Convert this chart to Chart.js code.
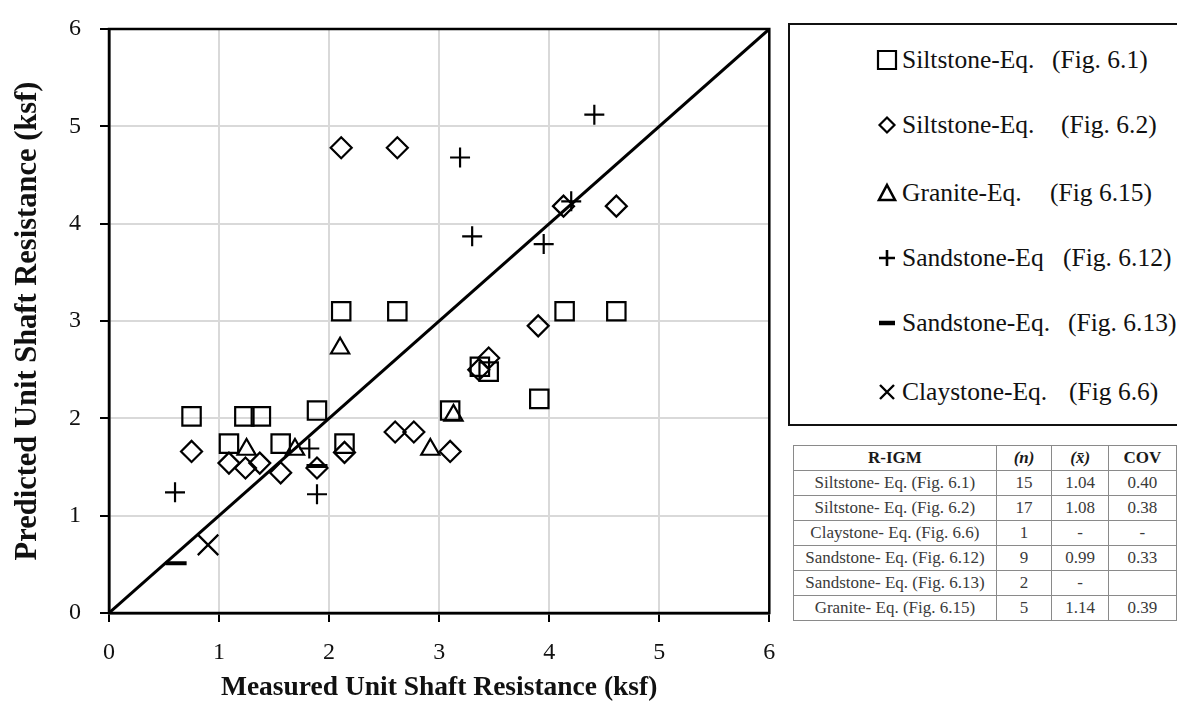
<!DOCTYPE html>
<html>
<head>
<meta charset="utf-8">
<title>Measured vs Predicted Unit Shaft Resistance</title>
<script src="https://cdn.jsdelivr.net/npm/chart.js@4"></script>
<style>
    body {
        margin: 0;
        width: 1177px;
        height: 704px;
        overflow: hidden;
        background: #fff;
        position: relative;
        font-family: 'Liberation Serif', 'Times New Roman', serif;
    }
    #chartBox {
        position: absolute;
        left: 0;
        top: 0;
        width: 786px;
        height: 704px;
    }
    .legend {
        position: absolute;
        left: 788px;
        top: 23px;
        width: 430px;
        height: 403px;
        border: 2px solid #111;
        box-sizing: border-box;
    }
    .legend .lbl {
        position: absolute;
        font-size: 25.5px;
        line-height: 30px;
        color: #111;
        white-space: nowrap;
    }
    .legend canvas {
        position: absolute;
    }
    .rigm {
        position: absolute;
        left: 793px;
        top: 445px;
        border-collapse: collapse;
        font-size: 17px;
        color: #3a3a3a;
        table-layout: fixed;
    }
    .rigm td, .rigm th {
        border: 1.5px solid #8a8a8a;
        height: 24px;
        padding: 0;
        text-align: center;
        white-space: nowrap;
        line-height: 20px;
    }
    .rigm th { font-weight: bold; color: #1a1a1a; }
</style>
</head>
<body>
<div id="chartBox"><canvas id="chart"></canvas></div>
<div class="legend" id="legend"></div>
<table class="rigm" id="rigm"></table>

<script>
    // measured (x) vs predicted (y) unit shaft resistance, ksf
    const siltstone61 = [[0.75, 2.02], [1.09, 1.74], [1.23, 2.02], [1.38, 2.02], [1.56, 1.74], [1.89, 2.08],
        [2.14, 1.74], [2.11, 3.10], [2.62, 3.10], [3.10, 2.08], [3.37, 2.53], [3.45, 2.48], [3.91, 2.20],
        [4.14, 3.10], [4.61, 3.10]];
    const siltstone62 = [[0.75, 1.66], [1.09, 1.54], [1.24, 1.49], [1.37, 1.54], [1.56, 1.44], [1.89, 1.49],
        [2.14, 1.65], [2.11, 4.78], [2.62, 4.78], [2.60, 1.86], [2.77, 1.86], [3.10, 1.66], [3.36, 2.50],
        [3.45, 2.62], [3.90, 2.95], [4.13, 4.18], [4.61, 4.18]];
    const granite615 = [[1.25, 1.68], [1.69, 1.68], [2.10, 2.72], [2.92, 1.68], [3.13, 2.03]];
    const sandstone612 = [[0.60, 1.24], [1.82, 1.69], [1.89, 1.22], [3.19, 4.68], [3.30, 3.87],
        [3.95, 3.79], [4.20, 4.23], [4.41, 5.12]];
    const sandstone613 = [[0.61, 0.51], [1.89, 1.51]];
    const claystone66 = [[0.90, 0.70]];
    const oneToOne = [[0, 0], [6, 6]];

    const seriesNames = ['Siltstone-Eq.', 'Siltstone-Eq.', 'Granite-Eq.', 'Sandstone-Eq', 'Sandstone-Eq.', 'Claystone-Eq.'];
    const seriesFigs = ['(Fig. 6.1)', '(Fig. 6.2)', '(Fig 6.15)', '(Fig. 6.12)', '(Fig. 6.13)', '(Fig 6.6)'];

    const tableHead = ['R-IGM', '(n)', '(x\u0304)', 'COV'];
    const tableRigm = ['Siltstone- Eq. (Fig. 6.1)', 'Siltstone- Eq. (Fig. 6.2)', 'Claystone- Eq. (Fig. 6.6)',
        'Sandstone- Eq. (Fig. 6.12)', 'Sandstone- Eq. (Fig. 6.13)', 'Granite- Eq. (Fig. 6.15)'];
    const tableN = ['15', '17', '1', '9', '2', '5'];
    const tableMean = ['1.04', '1.08', '-', '0.99', '-', '1.14'];
    const tableCov = ['0.40', '0.38', '-', '0.33', '', '0.39'];

    const serif = "'Liberation Serif', 'Times New Roman', serif";

    function pts(arr) {
        return arr.map(p => ({ x: p[0], y: p[1] }));
    }

    function markerSet(data, style, radius, width) {
        return {
            data: pts(data),
            pointStyle: style,
            pointRadius: radius,
            pointHoverRadius: radius,
            pointBorderWidth: width,
            pointBorderColor: '#000',
            pointBackgroundColor: 'rgba(0,0,0,0)',
            showLine: false
        };
    }

    // black frame round the plot area
    const framePlugin = {
        id: 'frame',
        beforeDatasetsDraw(chart) {
            const { ctx, chartArea: a } = chart;
            ctx.save();
            ctx.strokeStyle = '#000';
            ctx.lineWidth = 2.5;
            ctx.strokeRect(a.left, a.top, a.right - a.left, a.bottom - a.top);
            ctx.restore();
        }
    };

    // fixed axis sizes, and no extra room for end labels
    function fixScale(size) {
        return function (scale) {
            if (scale.isHorizontal()) scale.height = size;
            else scale.width = size;
            scale.paddingTop = 0;
            scale.paddingBottom = 0;
            scale.paddingLeft = 0;
            scale.paddingRight = 0;
        };
    }

    const axisCommon = {
        type: 'linear',
        min: 0,
        max: 6,
        grid: { color: '#d9d9d9', lineWidth: 2, tickColor: '#000', tickLength: 9, tickWidth: 2 },
        border: { color: '#000', width: 2.5 }
    };
    const tickFont = { family: serif, size: 24 };

    new Chart(document.getElementById('chart'), {
        type: 'scatter',
        data: {
            datasets: [
                {
                    type: 'line',
                    data: pts(oneToOne),
                    borderColor: '#000',
                    borderWidth: 3,
                    pointRadius: 0,
                    showLine: true
                },
                markerSet(siltstone61, 'rect', 13, 2.2),
                markerSet(siltstone62, 'rectRot', 10.5, 2.2),
                markerSet(granite615, 'triangle', 10.5, 2.2),
                markerSet(sandstone612, 'cross', 10, 2.2),
                markerSet(sandstone613, 'line', 10.5, 4),
                markerSet(claystone66, 'crossRot', 14.5, 2.2)
            ]
        },
        options: {
            responsive: true,
            maintainAspectRatio: false,
            animation: false,
            layout: { padding: { top: 29, right: 14, left: 0, bottom: 0 } },
            plugins: {
                legend: { display: false },
                tooltip: { enabled: false }
            },
            scales: {
                x: Object.assign({}, axisCommon, {
                    ticks: { stepSize: 1, color: '#111', font: tickFont, padding: 16 },
                    title: {
                        display: true,
                        text: 'Measured Unit Shaft Resistance (ksf)',
                        color: '#111',
                        font: { family: serif, size: 27.5, weight: 'bold' },
                        padding: { top: 0, bottom: 0 }
                    },
                    afterFit: fixScale(91)
                }),
                y: Object.assign({}, axisCommon, {
                    ticks: { stepSize: 1, color: '#111', font: tickFont, padding: 19 },
                    title: {
                        display: true,
                        text: 'Predicted Unit Shaft Resistance (ksf)',
                        color: '#111',
                        font: { family: serif, size: 30.5, weight: 'bold' },
                        padding: { top: 10, bottom: 0 }
                    },
                    afterFit: fixScale(109)
                })
            }
        },
        plugins: [framePlugin]
    });

    // legend box
    const legendStyles = ['rect', 'rectRot', 'triangle', 'cross', 'line', 'crossRot'];
    const legendRowY = [35, 100, 168, 233, 298, 367];
    const legendFigX = [262, 271, 260, 273, 278, 279];

    function drawIcon(cv, style) {
        const c = cv.getContext('2d');
        c.strokeStyle = '#000';
        c.lineWidth = 2.2;
        c.beginPath();
        const m = 12;
        if (style === 'rect') {
            c.rect(m - 9, m - 9, 18, 18);
        } else if (style === 'rectRot') {
            c.moveTo(m - 7.5, m); c.lineTo(m, m - 7.5); c.lineTo(m + 7.5, m); c.lineTo(m, m + 7.5); c.closePath();
        } else if (style === 'triangle') {
            c.lineWidth = 2.6;
            c.moveTo(m, m - 8); c.lineTo(m + 8, m + 7); c.lineTo(m - 8, m + 7); c.closePath();
        } else if (style === 'cross') {
            c.lineWidth = 2.6;
            c.moveTo(m - 8, m); c.lineTo(m + 8, m); c.moveTo(m, m - 8); c.lineTo(m, m + 8);
        } else if (style === 'line') {
            c.lineWidth = 4.5;
            c.moveTo(m - 8, m); c.lineTo(m + 8, m);
        } else {
            c.lineWidth = 2.4;
            c.moveTo(m - 7, m - 7); c.lineTo(m + 7, m + 7); c.moveTo(m + 7, m - 7); c.lineTo(m - 7, m + 7);
        }
        c.stroke();
    }

    const legend = document.getElementById('legend');
    seriesNames.forEach((name, i) => {
        const cv = document.createElement('canvas');
        cv.width = 24; cv.height = 24;
        cv.style.left = (97 - 12) + 'px';
        cv.style.top = (legendRowY[i] - 12) + 'px';
        legend.appendChild(cv);
        drawIcon(cv, legendStyles[i]);

        const n = document.createElement('div');
        n.className = 'lbl';
        n.textContent = name;
        n.style.left = '112px';
        n.style.top = (legendRowY[i] - 15) + 'px';
        legend.appendChild(n);

        const f = document.createElement('div');
        f.className = 'lbl';
        f.textContent = seriesFigs[i];
        f.style.left = legendFigX[i] + 'px';
        f.style.top = (legendRowY[i] - 15) + 'px';
        legend.appendChild(f);
    });

    // statistics table
    const colW = [204, 58, 58, 70];
    const table = document.getElementById('rigm');
    const hr = document.createElement('tr');
    tableHead.forEach((h, j) => {
        const th = document.createElement('th');
        th.textContent = h;
        th.style.width = colW[j] + 'px';
        if (j === 1 || j === 2) th.style.fontStyle = 'italic';
        hr.appendChild(th);
    });
    table.appendChild(hr);
    tableRigm.forEach((r, i) => {
        const tr = document.createElement('tr');
        [r, tableN[i], tableMean[i], tableCov[i]].forEach(v => {
            const td = document.createElement('td');
            td.textContent = v;
            tr.appendChild(td);
        });
        table.appendChild(tr);
    });
</script>
</body>
</html>
